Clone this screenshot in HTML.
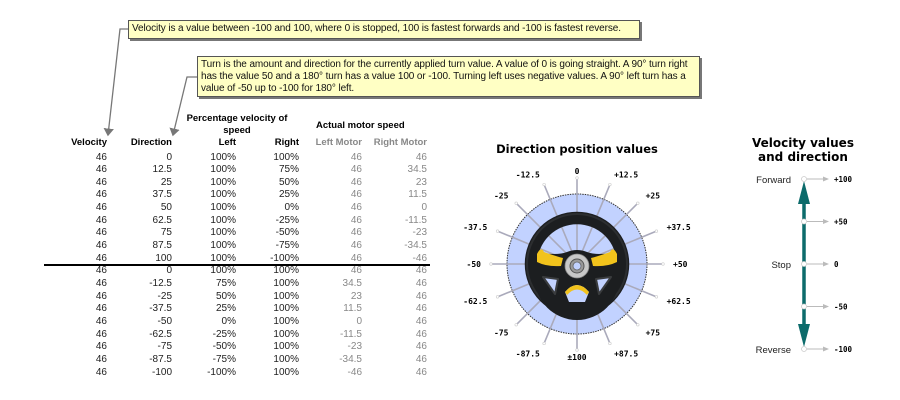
<!DOCTYPE html>
<html><head><meta charset="utf-8"><style>
body{margin:0;width:900px;height:400px;background:#fff;position:relative;overflow:hidden;font-family:"Liberation Sans",sans-serif;}
.note{position:absolute;background:#ffffc4;border:1px solid #555;box-shadow:2px 2px 0 #777;font-size:10px;line-height:12px;color:#111;padding:2px 3px;box-sizing:border-box;letter-spacing:-0.1px;}
.cell{position:absolute;font-size:10px;text-align:right;white-space:nowrap;}
.hd{position:absolute;font-size:9.5px;font-weight:bold;white-space:nowrap;}
svg{position:absolute;left:0;top:0;}
</style></head><body>
<svg width="900" height="400">
 <defs><marker id="ah" markerWidth="6" markerHeight="8" refX="5" refY="4" orient="auto"><path d="M0,0L6,4L0,8z" fill="#777"/></marker>
 <marker id="ga" markerWidth="6" markerHeight="6" refX="5" refY="3" orient="auto"><path d="M0,0.5L6,3L0,5.5z" fill="#bbb"/></marker></defs>
 <polyline points="128,29 120,29 108,135" fill="none" stroke="#777" stroke-width="1.3" marker-end="url(#ah)"/>
 <polyline points="197,77 187,77 173,135" fill="none" stroke="#777" stroke-width="1.3" marker-end="url(#ah)"/>
 <line x1="44" y1="265" x2="430" y2="265" stroke="#000" stroke-width="2"/>
 <g id="wheel"></g>
 <g id="vel"></g>
</svg>
<div class="note" style="left:128px;top:20px;width:512px;height:19px;">Velocity is a value between -100 and 100, where 0 is stopped, 100 is fastest forwards and -100 is fastest reverse.</div>
<div class="note" style="left:197px;top:56px;width:503px;height:41px;">Turn is the amount and direction for the currently applied turn value. A value of 0 is going straight. A 90° turn right has the value 50 and a 180° turn has a value 100 or -100. Turning left uses negative values. A 90° left turn has a value of -50 up to -100 for 180° left.</div>
<div class="hd" style="left:180px;top:113px;width:114px;text-align:center;line-height:12px;white-space:normal;">Percentage velocity of speed</div>
<div class="hd" style="left:316px;top:120px;">Actual motor speed</div>
<div id="tbl"></div>
<script>
const velocity=[46,46,46,46,46,46,46,46,46,46,46,46,46,46,46,46,46,46];
const direction=["0","12.5","25","37.5","50","62.5","75","87.5","100","0","-12.5","-25","-37.5","-50","-62.5","-75","-87.5","-100"];
const leftPct=["100%","100%","100%","100%","100%","100%","100%","100%","100%","100%","75%","50%","25%","0%","-25%","-50%","-75%","-100%"];
const rightPct=["100%","75%","50%","25%","0%","-25%","-50%","-75%","-100%","100%","100%","100%","100%","100%","100%","100%","100%","100%"];
const leftMotor=["46","46","46","46","46","46","46","46","46","46","34.5","23","11.5","0","-11.5","-23","-34.5","-46"];
const rightMotor=["46","34.5","23","11.5","0","-11.5","-23","-34.5","-46","46","46","46","46","46","46","46","46","46"];
const headers=["Velocity","Direction","Left","Right","Left Motor","Right Motor"];
const wheelLabels=["0","+12.5","+25","+37.5","+50","+62.5","+75","+87.5","±100","-87.5","-75","-62.5","-50","-37.5","-25","-12.5"];
const wheelValues=[0,12.5,25,37.5,50,62.5,75,87.5,100,-87.5,-75,-62.5,-50,-37.5,-25,-12.5];
const velValues=[100,50,0,-50,-100];
const velLabels=["+100","+50","0","-50","-100"];
const velNames={"100":"Forward","0":"Stop","-100":"Reverse"};

const tbl=document.getElementById('tbl');
const colR=[107,172,236,299,362,427];
const cols=[velocity,direction,leftPct,rightPct,leftMotor,rightMotor];
const colNames=['velocity','direction','left-pct','right-pct','left-motor','right-motor'];
headers.forEach((h,c)=>{const d=document.createElement('div');d.className='hd';


d.textContent=h;d.style.right=(900-colR[c])+'px';d.style.top='137px';if(c>=4)d.style.color='#888';tbl.appendChild(d);});
const rowY=i=>151.5+i*12.65;
for(let i=0;i<direction.length;i++){cols.forEach((arr,c)=>{const d=document.createElement('div');d.className='cell';


d.textContent=arr[i];d.style.right=(900-colR[c])+'px';d.style.top=rowY(i)+'px';d.style.color=c>=4?'#888':'#222';tbl.appendChild(d);});}

const NS='http://www.w3.org/2000/svg';
function el(p,t,a){const e=document.createElementNS(NS,t);for(const k in a)e.setAttribute(k,a[k]);p.appendChild(e);return e;}
const W=document.getElementById('wheel');const cx=577,cy=264;
const tt=el(W,'text',{x:cx,y:153,'text-anchor':'middle','font-family':'DejaVu Sans, sans-serif','font-weight':'bold','font-size':'11.5'});


tt.textContent='Direction position values';
const bc=el(W,'circle',{cx:cx,cy:cy,r:70,fill:'#c2d2ff',stroke:'#333','stroke-width':1,'stroke-dasharray':'1.5 1'});


wheelValues.forEach((v,i)=>{const a=v*1.8*Math.PI/180;const sx=Math.sin(a),sy=-Math.cos(a);
const ln=el(W,'line',{x1:cx,y1:cy,x2:cx+sx*86,y2:cy+sy*86,stroke:'#aab','stroke-width':1.6});


el(W,'circle',{cx:cx+sx*86,cy:cy+sy*86,r:1.3,fill:'#fff',stroke:'#ccc','stroke-width':0.6});
const r=v===0||Math.abs(v)===100?93:(Math.abs(v)===50?96:97);
const t=el(W,'text',{x:cx+sx*r,y:cy+sy*r+3,'text-anchor':Math.abs(sx)<0.2?'middle':(sx>0?'start':'end'),'font-family':'DejaVu Sans Mono, monospace','font-weight':'bold','font-size':'8'});


t.textContent=wheelLabels[i];});
const sw=el(W,'g',{});


el(sw,'circle',{cx:cx,cy:cy,r:46,fill:'none',stroke:'#1c1e20','stroke-width':12.5});
el(sw,'circle',{cx:cx,cy:cy,r:50,fill:'none',stroke:'#2c2e30','stroke-width':2});
const P=(pts)=>pts.map(p=>(cx+p[0])+','+(cy+p[1])).join(' ');
el(sw,'path',{d:`M${cx-42},${cy-12} Q${cx-20},${cy-8} ${cx-10},${cy-12} Q${cx},${cy-16} ${cx+10},${cy-12} Q${cx+20},${cy-8} ${cx+42},${cy-12} L${cx+42},${cy+14} A42,42 0 0 1 ${cx-42},${cy+14} Z`,fill:'#1c1e20'});
el(sw,'polygon',{points:P([[-34,13],[-19,15],[-22,30]]),fill:'#c2d2ff',stroke:'#3a3c3e','stroke-width':2,'stroke-linejoin':'round'});
el(sw,'polygon',{points:P([[34,13],[19,15],[22,30]]),fill:'#c2d2ff',stroke:'#3a3c3e','stroke-width':2,'stroke-linejoin':'round'});
el(sw,'path',{d:`M${cx-12},${cy+28} Q${cx},${cy+14} ${cx+12},${cy+28} L${cx+8},${cy+38} L${cx-8},${cy+38} Z`,fill:'#c2d2ff'});
el(sw,'path',{d:`M${cx-12},${cy+28} Q${cx},${cy+14} ${cx+12},${cy+28} L${cx+10},${cy+31} Q${cx},${cy+20} ${cx-10},${cy+31} Z`,fill:'#f2c31c'});
el(sw,'path',{d:`M${cx-40},${cy-10} Q${cx-36},${cy-18} ${cx-33},${cy-12} Q${cx-22},${cy-8} ${cx-14},${cy-6} L${cx-16},${cy+2} Q${cx-30},${cy+3} ${cx-40},${cy-2} Z`,fill:'#f2c31c'});
el(sw,'path',{d:`M${cx+40},${cy-10} Q${cx+36},${cy-18} ${cx+33},${cy-12} Q${cx+22},${cy-8} ${cx+14},${cy-6} L${cx+16},${cy+2} Q${cx+30},${cy+3} ${cx+40},${cy-2} Z`,fill:'#f2c31c'});
el(sw,'circle',{cx:cx,cy:cy+2,r:12,fill:'#c8c8c8',stroke:'#888','stroke-width':0.8});
el(sw,'circle',{cx:cx,cy:cy+2,r:7,fill:'#9a9a9a',stroke:'#555','stroke-width':1});
el(sw,'circle',{cx:cx,cy:cy+2,r:4,fill:'#c2d2ff',stroke:'#666','stroke-width':0.8});

const V=document.getElementById('vel');const vx=804,vTop=179,vBot=349;
const vy=v=>vTop+(100-v)/200*(vBot-vTop);
[['Velocity values',147],['and direction',161]].forEach(([s,y])=>{const t=el(V,'text',{x:803,y:y,'text-anchor':'middle','font-family':'DejaVu Sans, sans-serif','font-weight':'bold','font-size':'12'});


t.textContent=s;});
const ax=el(V,'line',{x1:vx,y1:vy(100)+18,x2:vx,y2:vy(-100)-18,stroke:'#0c6b6b','stroke-width':3.5});


el(V,'polygon',{points:`${vx},${vy(100)+2} ${vx-6},${vy(100)+25} ${vx+6},${vy(100)+25}`,fill:'#0c6b6b'});
el(V,'polygon',{points:`${vx},${vy(-100)-2} ${vx-6},${vy(-100)-25} ${vx+6},${vy(-100)-25}`,fill:'#0c6b6b'});
velValues.forEach((v,i)=>{const y=vy(v);
const l=el(V,'line',{x1:vx+3,y1:y,x2:vx+24,y2:y,stroke:'#bbb','stroke-width':1,'marker-end':'url(#ga)'});


el(V,'circle',{cx:vx,cy:y,r:2.5,fill:'#fff',stroke:'#ccc','stroke-width':0.8});
const t=el(V,'text',{x:vx+30,y:y+3,'font-family':'DejaVu Sans Mono, monospace','font-weight':'bold','font-size':'7.5'});


t.textContent=velLabels[i];
if(velNames[v]){const n=el(V,'text',{x:vx-13,y:y+4,'text-anchor':'end','font-family':'Liberation Sans, sans-serif','font-size':'9.5',fill:'#222'});


n.textContent=velNames[v];}});
</script>
</body></html>
